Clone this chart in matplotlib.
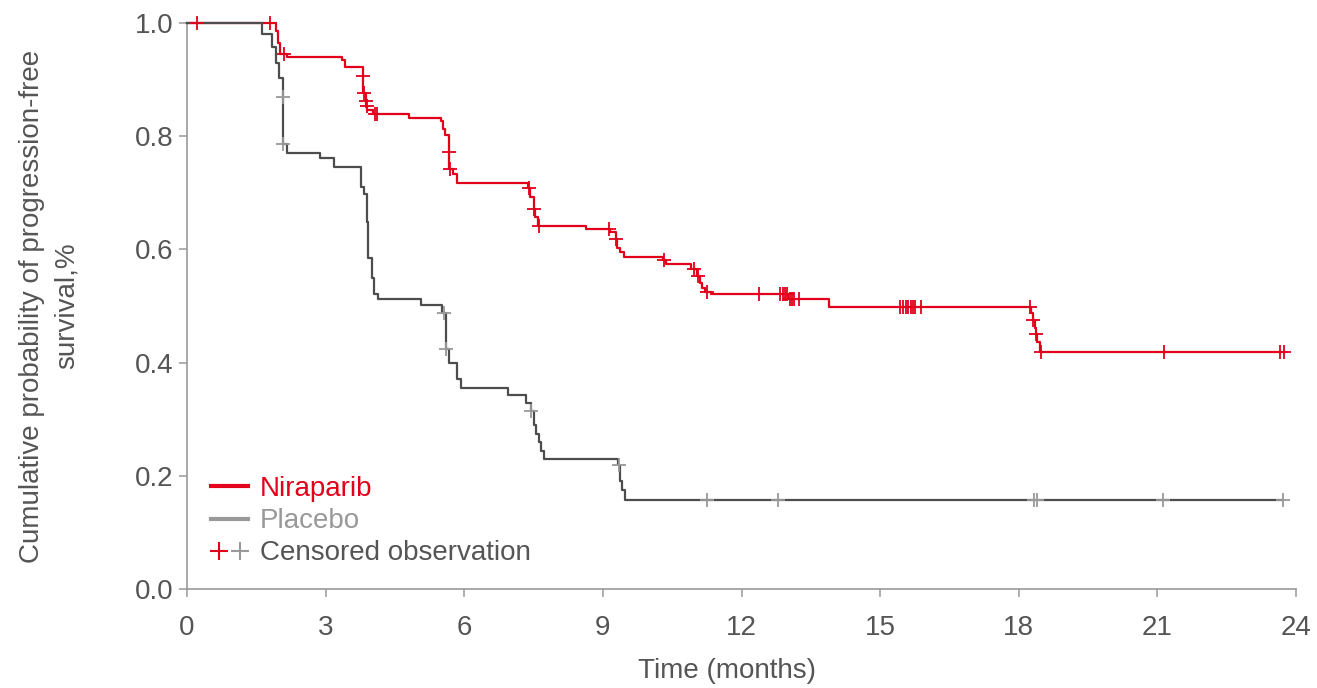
import numpy as np
import matplotlib
matplotlib.use("Agg")
import matplotlib.pyplot as plt
from matplotlib.lines import Line2D
from matplotlib.legend_handler import HandlerTuple

plt.rcParams['font.family'] = ['Liberation Sans', 'DejaVu Sans']

# Kaplan-Meier step data: event times (months) and survival after each event
nira_t = [0, 1.93, 1.98, 2.01, 2.16, 3.35, 3.43, 3.81, 3.815, 3.87, 3.88, 3.90, 4.02, 4.80,
          5.49, 5.54, 5.58, 5.67, 5.68, 5.765, 5.84, 7.39, 7.42, 7.51, 7.54, 7.60, 8.63,
          9.16, 9.28, 9.31, 9.37, 9.46, 10.30, 10.37, 10.90, 11.03, 11.10, 11.15, 11.22,
          11.33, 13.01, 13.90, 18.27, 18.30, 18.35, 18.37, 18.40, 18.45]
nira_s = [1.0, 0.986, 0.964, 0.946, 0.940, 0.935, 0.922, 0.907, 0.877, 0.863, 0.853, 0.847,
          0.839, 0.833, 0.827, 0.812, 0.802, 0.772, 0.742, 0.733, 0.717, 0.708, 0.692, 0.671,
          0.658, 0.642, 0.636, 0.630, 0.618, 0.602, 0.595, 0.587, 0.581, 0.574, 0.565, 0.553,
          0.540, 0.531, 0.525, 0.522, 0.512, 0.498, 0.487, 0.475, 0.461, 0.450, 0.437, 0.418]
nira_censor = [0.21, 1.80, 2.10, 3.812, 3.82, 3.875, 3.885, 4.07, 4.12, 5.675, 5.685, 7.40,
               7.52, 7.62, 9.13, 9.29, 10.33, 10.98, 11.05, 11.25, 12.38, 12.84, 12.89, 12.95,
               12.99, 13.05, 13.09, 13.13, 13.24, 15.43, 15.49, 15.55, 15.61, 15.67, 15.72,
               15.76, 15.88, 18.25, 18.31, 18.38, 18.48, 21.15, 23.65, 23.74]
nira_end = 23.74

plac_t = [0, 1.62, 1.83, 1.93, 2.00, 2.07, 2.08, 2.17, 2.88, 3.18, 3.76, 3.82, 3.89, 3.92,
          4.00, 4.05, 4.13, 5.06, 5.51, 5.55, 5.60, 5.61, 5.67, 5.84, 5.92, 6.95, 7.34, 7.44,
          7.50, 7.55, 7.62, 7.66, 7.73, 9.32, 9.37, 9.42, 9.47]
plac_s = [1.0, 0.981, 0.958, 0.929, 0.902, 0.869, 0.786, 0.771, 0.761, 0.745, 0.711, 0.698,
          0.649, 0.585, 0.549, 0.521, 0.512, 0.502, 0.490, 0.487, 0.475, 0.424, 0.399, 0.371,
          0.356, 0.342, 0.329, 0.315, 0.289, 0.274, 0.259, 0.244, 0.230, 0.219, 0.190, 0.175,
          0.157]
plac_censor = [2.075, 2.085, 5.56, 5.615, 7.445, 9.34, 11.25, 12.80, 18.34, 18.40, 21.13, 23.71]
plac_end = 23.71

x_ticks = [0, 3, 6, 9, 12, 15, 18, 21, 24]
y_ticks = [0.0, 0.2, 0.4, 0.6, 0.8, 1.0]

RED = '#e2001a'
DARK = '#4d4d4d'
LIGHT = '#999999'
TEXT = '#555555'
FS = 20


def surv_at(times, surv, t):
    idx = np.searchsorted(np.asarray(times), np.asarray(t), side='right') - 1
    return np.asarray(surv)[idx]


fig = plt.figure(figsize=(13.17, 6.88), dpi=100)
ax = fig.add_axes([187 / 1317, 1 - 589 / 688, 1109 / 1317, 566 / 688])

for times, surv, end, cens, lc, mc in [
        (nira_t, nira_s, nira_end, nira_censor, RED, RED),
        (plac_t, plac_s, plac_end, plac_censor, DARK, LIGHT)]:
    xs = list(times) + [end]
    ys = list(surv) + [surv[-1]]
    ax.step(xs, ys, where='post', color=lc, lw=1.6, clip_on=False, zorder=3)
    ax.plot(cens, surv_at(times, surv, cens), ls='none', marker='+', ms=10, mew=1.3,
            color=mc, clip_on=False, zorder=4)

ax.set_xlim(0, 24)
ax.set_ylim(0, 1)
ax.set_xticks(x_ticks)
ax.set_xticklabels([str(v) for v in x_ticks])
ax.set_yticks(y_ticks)
ax.set_yticklabels([f'{v:.1f}' for v in y_ticks])
for side in ['top', 'right']:
    ax.spines[side].set_visible(False)
for side in ['left', 'bottom']:
    ax.spines[side].set_color(LIGHT)
    ax.spines[side].set_linewidth(1.2)
ax.tick_params(axis='both', colors=LIGHT, labelcolor=TEXT, labelsize=FS, length=6, width=1.1)
ax.tick_params(axis='x', pad=13)
ax.tick_params(axis='y', pad=4)

ax.set_xlabel('Time (months)', fontsize=FS, color=TEXT)
ax.xaxis.set_label_coords(0.487, -0.122)
ax.set_ylabel('Cumulative probability of progression-free\nsurvival,%', fontsize=FS,
              color=TEXT, linespacing=1.4)
ax.yaxis.set_label_coords(-0.097, 0.5)

handles = [Line2D([], [], color=RED, lw=3),
           Line2D([], [], color=LIGHT, lw=3),
           (Line2D([], [], ls='none', marker='+', ms=13, mew=1.5, color=RED),
            Line2D([], [], ls='none', marker='+', ms=13, mew=1.5, color=LIGHT))]
labels = ['Niraparib', 'Placebo', 'Censored observation']
leg = ax.legend(handles, labels, loc='lower left', bbox_to_anchor=(0.022, 0.04),
                frameon=False, fontsize=FS, handlelength=1.3, handletextpad=0.45,
                labelspacing=0.22, borderpad=0, borderaxespad=0,
                handler_map={tuple: HandlerTuple(ndivide=None, pad=0.15)})
for txt, col in zip(leg.get_texts(), [RED, LIGHT, TEXT]):
    txt.set_color(col)

fig.savefig('out.png', dpi=100, facecolor='white')
